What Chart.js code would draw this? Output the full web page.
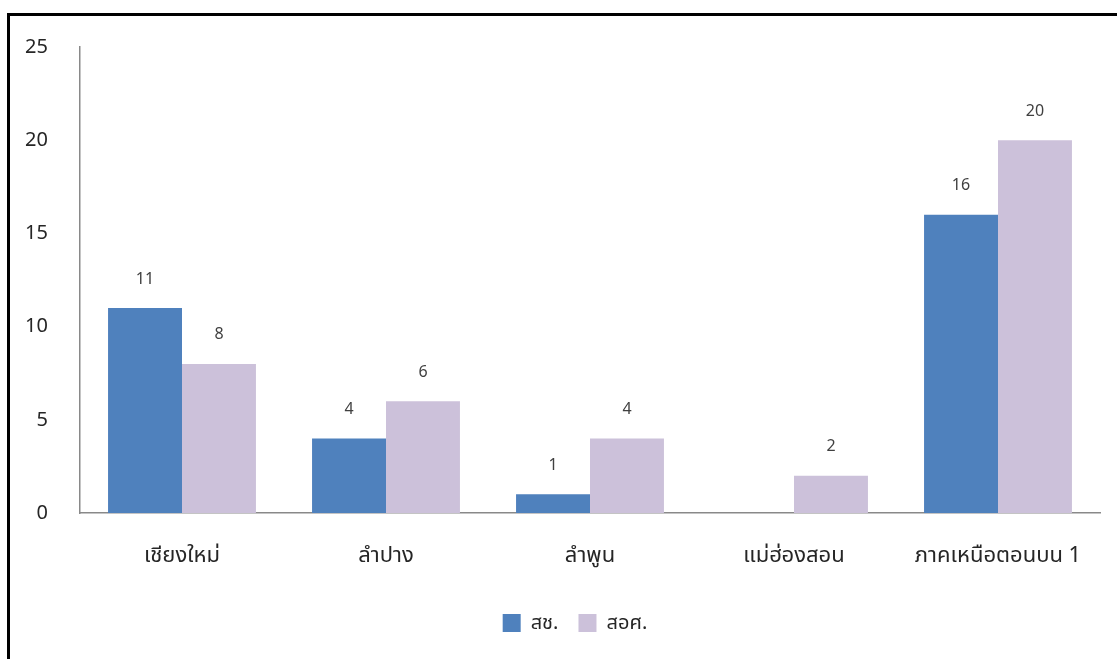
<!DOCTYPE html>
<html>
<head>
<meta charset="utf-8">
<script src="https://cdn.jsdelivr.net/npm/chart.js@4"></script>
<style>
  html, body { margin: 0; padding: 0; background: #fff; overflow: hidden; }
  #wrap { position: absolute; left: 0; top: 0; width: 1117px; height: 659px; }
  #frame {
    position: absolute; left: 7px; top: 13px; width: 1200px; height: 700px;
    border-left: 3px solid #000; border-top: 3px solid #000; pointer-events: none;
  }
</style>
</head>
<body>
<div id="wrap"><canvas id="chart" width="1117" height="659"></canvas></div>
<div id="frame"></div>
<script>
// datos del gráfico
const categorias = ['เชียงใหม่', 'ลำปาง', 'ลำพูน', 'แม่ฮ่องสอน', 'ภาคเหนือตอนบน 1'];
const serieNombres = ['สช.', 'สอศ.'];
const valoresSch = [11, 4, 1, 0, 16];
const valoresSos = [8, 6, 4, 2, 20];
const ticksY = [0, 5, 10, 15, 20, 25];

const colores = ['#4F81BD', '#CCC1DA'];
const fuente = "'Noto Sans', 'Noto Sans Thai', Tahoma, sans-serif";

// etiquetas de valor encima de cada barra
const etiquetasValor = {
    id: 'etiquetasValor',
    afterLayout(chart) {
        // la leyenda del original está centrada un poco más a la derecha
        if (chart.legend) {
            chart.legend.left += 25;
            chart.legend.right += 25;
        }
    },
    afterDatasetsDraw(chart) {
        const ctx = chart.ctx;
        ctx.save();
        ctx.font = '16px ' + fuente;
        ctx.fillStyle = '#404040';
        ctx.textAlign = 'center';
        ctx.textBaseline = 'middle';
        chart.data.datasets.forEach((ds, i) => {
            chart.getDatasetMeta(i).data.forEach((bar, j) => {
                const v = ds.data[j];
                if (!v) return;
                ctx.fillText(String(v), bar.x, bar.y - 29);
            });
        });
        ctx.restore();
    }
};

new Chart(document.getElementById('chart'), {
    type: 'bar',
    data: {
        labels: categorias,
        datasets: [
            { label: serieNombres[0], data: valoresSch, backgroundColor: colores[0] },
            { label: serieNombres[1], data: valoresSos, backgroundColor: colores[1] }
        ]
    },
    options: {
        responsive: false,
        animation: false,
        layout: { padding: { left: 0, right: 17, top: 47, bottom: 16 } },
        datasets: { bar: { categoryPercentage: 0.725, barPercentage: 1.0 } },
        plugins: {
            legend: {
                position: 'bottom',
                labels: {
                    boxWidth: 18, boxHeight: 18, padding: 20,
                    color: '#262626',
                    font: { size: 20, family: fuente }
                }
            },
            tooltip: { enabled: false }
        },
        scales: {
            x: {
                grid: { display: false },
                border: { display: true, color: '#898989', width: 1.5 },
                ticks: { color: '#262626', padding: 22, font: { size: 22, family: fuente } },
                afterFit: function(scale) { scale.height = 80; }
            },
            y: {
                min: 0, max: 25,
                grid: { display: false },
                border: { display: true, color: '#898989', width: 1.5 },
                afterBuildTicks: function(scale) {
                    scale.ticks = ticksY.map(v => ({ value: v }));
                },
                ticks: { color: '#262626', padding: 24, font: { size: 20, family: fuente } },
                afterFit: function(scale) { scale.width = 80; }
            }
        }
    },
    plugins: [etiquetasValor]
});
</script>
</body>
</html>
